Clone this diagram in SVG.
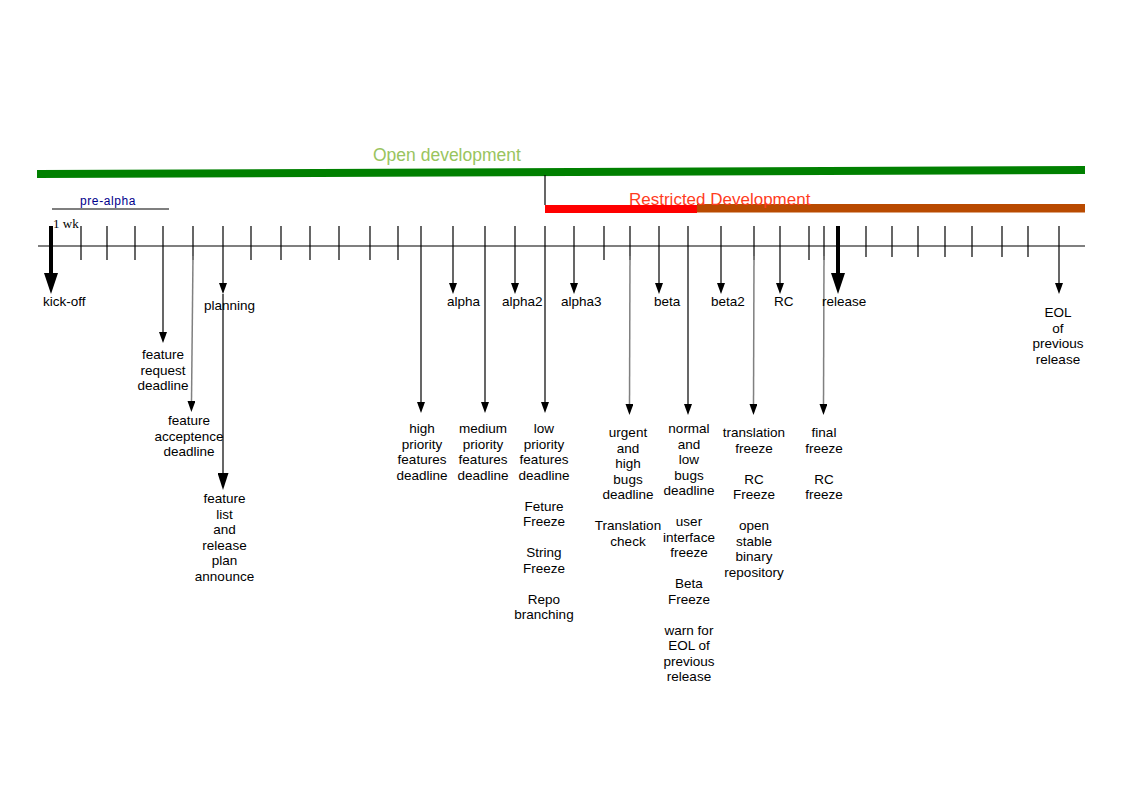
<svg xmlns="http://www.w3.org/2000/svg" width="1123" height="794" viewBox="0 0 1123 794">
<style>
.lbl{font-family:"Liberation Sans",Arial,sans-serif;font-size:13.5px;fill:#000}
.c{text-anchor:middle}
.tick{stroke:#000;stroke-width:1.2}
.ar{stroke:#000;stroke-width:1.2;fill:none}
.gr{stroke:#808080;stroke-width:1.5;fill:none}
.bold{stroke:#000;stroke-width:4;fill:none}
</style>
<defs>
<marker id="as" viewBox="0 0 11 8" markerWidth="11" markerHeight="8" refX="0" refY="4" orient="auto" markerUnits="userSpaceOnUse"><path d="M0,0 L11,4 L0,8 z" fill="#000"/></marker>
<marker id="am" viewBox="0 0 17 11" markerWidth="17" markerHeight="11" refX="0" refY="5.5" orient="auto" markerUnits="userSpaceOnUse"><path d="M0,0 L17,5.5 L0,11 z" fill="#000"/></marker>
<marker id="ab" viewBox="0 0 21 14" markerWidth="21" markerHeight="14" refX="0" refY="7" orient="auto" markerUnits="userSpaceOnUse"><path d="M0,0 L21,7 L0,14 z" fill="#000"/></marker>
</defs>
<rect width="1123" height="794" fill="#fff"/>

<g id="phases">
<polygon points="37,170 1085,166 1085,174 37,178" fill="#008000"/>
<text x="373" y="161" font-family="Liberation Sans,Arial,sans-serif" font-size="17.5" fill="#99c45e">Open development</text>
<line x1="545" y1="175" x2="545" y2="205" stroke="#000" stroke-width="1.2"/>
<rect x="545" y="205" width="152" height="8" fill="#ff0000"/>
<rect x="697" y="204" width="388" height="8.5" fill="#b94a00"/>
<text x="629" y="205" font-family="Liberation Sans,Arial,sans-serif" font-size="17" fill="#ff3c1e">Restricted Development</text>
<line x1="52" y1="209" x2="169" y2="209" stroke="#000" stroke-width="1.2"/>
<text x="80" y="205" font-family="Liberation Sans,Arial,sans-serif" font-size="12" letter-spacing="0.6" fill="#00008b">pre-alpha</text>
<text x="53" y="228" font-family="Liberation Serif,Times New Roman,serif" font-size="13" fill="#000">1 wk</text>
</g>

<g id="timeline">
<line x1="38" y1="246" x2="1085" y2="246" stroke="#000" stroke-width="1.2"/>
<g class="tick">
<line x1="81" y1="226" x2="81" y2="260"/>
<line x1="107" y1="226" x2="107" y2="260"/>
<line x1="135" y1="226" x2="135" y2="260"/>
<line x1="193" y1="226" x2="193" y2="260"/>
<line x1="251" y1="226" x2="251" y2="260"/>
<line x1="281" y1="226" x2="281" y2="260"/>
<line x1="310" y1="226" x2="310" y2="260"/>
<line x1="339" y1="226" x2="339" y2="260"/>
<line x1="370" y1="226" x2="370" y2="260"/>
<line x1="398" y1="226" x2="398" y2="260"/>
<line x1="604" y1="226" x2="604" y2="260"/>
<line x1="630" y1="226" x2="630" y2="260"/>
<line x1="754" y1="226" x2="754" y2="260"/>
<line x1="809" y1="226" x2="809" y2="260"/>
<line x1="824" y1="226" x2="824" y2="260"/>
<line x1="866" y1="226" x2="866" y2="257"/>
<line x1="892" y1="226" x2="892" y2="257"/>
<line x1="918" y1="226" x2="918" y2="257"/>
<line x1="945" y1="226" x2="945" y2="257"/>
<line x1="972" y1="226" x2="972" y2="257"/>
<line x1="1002" y1="226" x2="1002" y2="257"/>
<line x1="1028" y1="226" x2="1028" y2="257"/>
</g>
</g>

<g id="connectors">
<line class="bold" x1="51" y1="226" x2="51" y2="273" marker-end="url(#ab)"/>
<line class="bold" x1="838" y1="226" x2="838" y2="273" marker-end="url(#ab)"/>
<line class="ar" x1="163" y1="226" x2="163" y2="332" marker-end="url(#as)"/>
<line class="ar" x1="223" y1="226" x2="223" y2="283" marker-end="url(#as)"/>
<line class="ar" x1="223" y1="294" x2="223" y2="473" marker-end="url(#am)"/>
<line class="ar" x1="421" y1="226" x2="421" y2="402" marker-end="url(#as)"/>
<line class="ar" x1="453" y1="226" x2="453" y2="283" marker-end="url(#as)"/>
<line class="ar" x1="485" y1="226" x2="485" y2="402" marker-end="url(#as)"/>
<line class="ar" x1="515" y1="226" x2="515" y2="283" marker-end="url(#as)"/>
<line class="ar" x1="545" y1="226" x2="545" y2="402" marker-end="url(#as)"/>
<line class="ar" x1="574" y1="226" x2="574" y2="283" marker-end="url(#as)"/>
<line class="ar" x1="659" y1="226" x2="659" y2="283" marker-end="url(#as)"/>
<line class="ar" x1="688" y1="226" x2="688" y2="404" marker-end="url(#as)"/>
<line class="ar" x1="721" y1="226" x2="721" y2="283" marker-end="url(#as)"/>
<line class="ar" x1="780" y1="226" x2="780" y2="283" marker-end="url(#as)"/>
<line class="ar" x1="1059" y1="226" x2="1059" y2="283" marker-end="url(#as)"/>
<line class="gr" x1="193" y1="256" x2="191.5" y2="401" marker-end="url(#as)"/>
<line class="gr" x1="630" y1="256" x2="629.5" y2="404" marker-end="url(#as)"/>
<line class="gr" x1="754" y1="256" x2="753.5" y2="404" marker-end="url(#as)"/>
<line class="gr" x1="824" y1="256" x2="823.5" y2="404" marker-end="url(#as)"/>
</g>

<g id="kickoff"><text class="lbl" x="43" y="306">kick-off</text></g>
<g id="planning"><text class="lbl" x="204" y="310">planning</text></g>
<g id="alpha"><text class="lbl" x="447" y="306">alpha</text></g>
<g id="alpha2"><text class="lbl" x="502" y="306">alpha2</text></g>
<g id="alpha3"><text class="lbl" x="561" y="306">alpha3</text></g>
<g id="beta"><text class="lbl" x="654" y="306">beta</text></g>
<g id="beta2"><text class="lbl" x="711" y="306">beta2</text></g>
<g id="rc"><text class="lbl" x="774" y="306">RC</text></g>
<g id="release"><text class="lbl" x="822" y="306">release</text></g>

<g id="eol"><text class="lbl c" x="1058" y="317">EOL<tspan x="1058" dy="15.5">of</tspan><tspan x="1058" dy="15.5">previous</tspan><tspan x="1058" dy="15.5">release</tspan></text></g>

<g id="feature-request"><text class="lbl c" x="163" y="359">feature<tspan x="163" dy="15.5">request</tspan><tspan x="163" dy="15.5">deadline</tspan></text></g>
<g id="feature-acceptence"><text class="lbl c" x="189" y="425">feature<tspan x="189" dy="15.5">acceptence</tspan><tspan x="189" dy="15.5">deadline</tspan></text></g>
<g id="feature-list"><text class="lbl c" x="224.5" y="503">feature<tspan x="224.5" dy="15.5">list</tspan><tspan x="224.5" dy="15.5">and</tspan><tspan x="224.5" dy="15.5">release</tspan><tspan x="224.5" dy="15.5">plan</tspan><tspan x="224.5" dy="15.5">announce</tspan></text></g>

<g id="high-priority"><text class="lbl c" x="422" y="433">high<tspan x="422" dy="15.5">priority</tspan><tspan x="422" dy="15.5">features</tspan><tspan x="422" dy="15.5">deadline</tspan></text></g>
<g id="medium-priority"><text class="lbl c" x="483" y="433">medium<tspan x="483" dy="15.5">priority</tspan><tspan x="483" dy="15.5">features</tspan><tspan x="483" dy="15.5">deadline</tspan></text></g>
<g id="low-priority"><text class="lbl c" x="544" y="433">low<tspan x="544" dy="15.5">priority</tspan><tspan x="544" dy="15.5">features</tspan><tspan x="544" dy="15.5">deadline</tspan><tspan x="544" dy="31">Feture</tspan><tspan x="544" dy="15.5">Freeze</tspan><tspan x="544" dy="31">String</tspan><tspan x="544" dy="15.5">Freeze</tspan><tspan x="544" dy="31">Repo</tspan><tspan x="544" dy="15.5">branching</tspan></text></g>

<g id="urgent"><text class="lbl c" x="628" y="437">urgent<tspan x="628" dy="15.5">and</tspan><tspan x="628" dy="15.5">high</tspan><tspan x="628" dy="15.5">bugs</tspan><tspan x="628" dy="15.5">deadline</tspan><tspan x="628" dy="31">Translation</tspan><tspan x="628" dy="15.5">check</tspan></text></g>
<g id="normal"><text class="lbl c" x="689" y="433">normal<tspan x="689" dy="15.5">and</tspan><tspan x="689" dy="15.5">low</tspan><tspan x="689" dy="15.5">bugs</tspan><tspan x="689" dy="15.5">deadline</tspan><tspan x="689" dy="31">user</tspan><tspan x="689" dy="15.5">interface</tspan><tspan x="689" dy="15.5">freeze</tspan><tspan x="689" dy="31">Beta</tspan><tspan x="689" dy="15.5">Freeze</tspan><tspan x="689" dy="31">warn for</tspan><tspan x="689" dy="15.5">EOL of</tspan><tspan x="689" dy="15.5">previous</tspan><tspan x="689" dy="15.5">release</tspan></text></g>
<g id="translation"><text class="lbl c" x="754" y="437">translation<tspan x="754" dy="15.5">freeze</tspan><tspan x="754" dy="31">RC</tspan><tspan x="754" dy="15.5">Freeze</tspan><tspan x="754" dy="31">open</tspan><tspan x="754" dy="15.5">stable</tspan><tspan x="754" dy="15.5">binary</tspan><tspan x="754" dy="15.5">repository</tspan></text></g>
<g id="final"><text class="lbl c" x="824" y="437">final<tspan x="824" dy="15.5">freeze</tspan><tspan x="824" dy="31">RC</tspan><tspan x="824" dy="15.5">freeze</tspan></text></g>
</svg>
